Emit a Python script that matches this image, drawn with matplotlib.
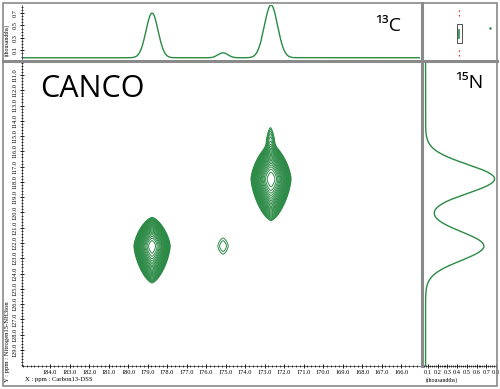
import numpy as np
import matplotlib
matplotlib.use("Agg")
import matplotlib.pyplot as plt
from matplotlib.lines import Line2D
from matplotlib.patches import Rectangle
from matplotlib.ticker import MultipleLocator, FixedLocator

# ---------------- data ----------------
# 2D cross peaks: carbon ppm, nitrogen ppm, amplitude, widths (x, y-up, y-down)
peak_c = [178.77, 172.67, 175.13, 172.70]
peak_n = [122.2, 117.8, 122.2, 115.2]
peak_amp = [1.0, 1.0, 0.0265, 0.035]
peak_wx = [0.47, 0.52, 0.50, 0.23]
peak_wy_up = [0.95, 1.15, 1.00, 1.00]
peak_wy_dn = [1.22, 1.38, 1.00, 1.00]

# 1D 13C projection (thousandths)
c13_pos = [178.77, 175.13, 172.67]
c13_height = [0.72, 0.08, 0.85]
c13_width = [0.31, 0.25, 0.34]
c13_base = -0.02

# 1D 15N projection (thousandths)
n15_pos = [117.8, 122.2]
n15_height = [0.71, 0.60]
n15_width = [0.95, 0.95]
n15_base = 0.075

x_ticks = [184.0, 183.0, 182.0, 181.0, 180.0, 179.0, 178.0, 177.0, 176.0,
           175.0, 174.0, 173.0, 172.0, 171.0, 170.0, 169.0, 168.0, 167.0, 166.0]
y_ticks = [111.0, 112.0, 113.0, 114.0, 115.0, 116.0, 117.0, 118.0, 119.0, 120.0,
           121.0, 122.0, 123.0, 124.0, 125.0, 126.0, 127.0, 128.0, 129.0]
top_ticks = [0.1, 0.3, 0.5, 0.7]
right_ticks = [0.1, 0.2, 0.3, 0.4, 0.5, 0.6, 0.7, 0.8]

GREEN = "#2b8a45"
GRAY = "#8a8a8a"
W, H = 500, 389
TICKFONT = dict(family="Liberation Serif", size=4.6)

fig = plt.figure(figsize=(W / 100, H / 100), dpi=100)


def rect(x0, y0, x1, y1):
    return [x0 / W, 1 - y1 / H, (x1 - x0) / W, (y1 - y0) / H]


main = fig.add_axes(rect(22, 62, 420, 366))
top = fig.add_axes(rect(22, 5, 420, 59), sharex=main)
right = fig.add_axes(rect(424, 62, 497, 366), sharey=main)
corner = fig.add_axes(rect(424, 5, 497, 58))

# ---------------- 2D contour ----------------
xg = np.linspace(165.0, 185.5, 800)
yg = np.linspace(110.0, 130.1, 800)
X, Y = np.meshgrid(xg, yg)
Z = np.zeros_like(X)
p = 1.5
for c, n, a, wx, wu, wd in zip(peak_c, peak_n, peak_amp, peak_wx, peak_wy_up, peak_wy_dn):
    dx = np.abs(X - c) / wx
    wy = np.where(Y < n, wu, wd)
    dy = np.abs(Y - n) / wy
    r = (dx ** p + dy ** p) ** (1.0 / p)
    Z += a * np.exp(-r ** 2)

levels = 0.02 * 1.17 ** np.arange(0, 25)
main.contour(X, Y, Z, levels=levels, colors=GREEN, linewidths=0.7)
main.set_xlim(185.44, 165.03)
main.set_ylim(130.05, 110.15)

main.xaxis.set_major_locator(FixedLocator(x_ticks))
main.yaxis.set_major_locator(FixedLocator(y_ticks))
main.xaxis.set_minor_locator(MultipleLocator(0.2))
main.yaxis.set_minor_locator(MultipleLocator(0.2))
main.set_xticklabels([f"{v:.1f}" for v in x_ticks], **TICKFONT)
main.set_yticklabels([f"{v:.1f}" for v in y_ticks], rotation=90, va="center", **TICKFONT)
main.tick_params(which="major", direction="inout", length=3, width=0.6, pad=1.5)
main.tick_params(which="minor", direction="inout", length=1.6, width=0.5)
for s in ["top", "right"]:
    main.spines[s].set_visible(False)
for s in ["left", "bottom"]:
    main.spines[s].set_linewidth(0.4)

main.text(0.045, 0.91, "CANCO", transform=main.transAxes, fontsize=22,
          family="Open Sans", ha="left", va="center")

# ---------------- top 13C trace ----------------
xs = np.linspace(165.0, 185.5, 1500)
c13 = np.full_like(xs, c13_base)
for pos, h, w in zip(c13_pos, c13_height, c13_width):
    c13 += h * np.exp(-0.5 * ((xs - pos) / w) ** 2)
top.plot(xs, c13, color=GREEN, lw=1.0)
top.set_ylim(-0.04, 0.83)
top.yaxis.set_major_locator(FixedLocator(top_ticks))
top.yaxis.set_minor_locator(MultipleLocator(0.05))
top.set_yticklabels([f"{v:.1f}" for v in top_ticks], rotation=90, va="center", **TICKFONT)
top.tick_params(axis="x", which="both", bottom=False, labelbottom=False)
top.tick_params(axis="y", which="major", direction="inout", length=3, width=0.6, pad=1.5)
top.tick_params(axis="y", which="minor", direction="inout", length=1.6, width=0.5)
for s in ["top", "right", "bottom"]:
    top.spines[s].set_visible(False)
top.spines["left"].set_linewidth(0.4)
top.text(0.92, 0.62, "\u00b9\u00b3C", transform=top.transAxes, fontsize=14,
         family="Open Sans", ha="center", va="center")

# ---------------- right 15N trace ----------------
ys = np.linspace(110.0, 130.1, 1500)
n15 = np.full_like(ys, n15_base)
for pos, h, w in zip(n15_pos, n15_height, n15_width):
    n15 += h * np.exp(-0.5 * ((ys - pos) / w) ** 2)
right.plot(n15, ys, color=GREEN, lw=1.0)
right.set_xlim(0.0588, 0.810)
right.xaxis.set_major_locator(FixedLocator(right_ticks))
right.xaxis.set_minor_locator(MultipleLocator(0.02))
right.set_xticklabels([f"{v:.1f}" for v in right_ticks], **TICKFONT)
right.tick_params(axis="y", which="both", left=False, labelleft=False)
right.tick_params(axis="x", which="major", direction="inout", length=3, width=0.6, pad=1.5)
right.tick_params(axis="x", which="minor", direction="inout", length=1.6, width=0.5)
for s in ["top", "right", "left"]:
    right.spines[s].set_visible(False)
right.spines["bottom"].set_linewidth(0.4)
right.text(0.62, 0.93, "\u00b9\u2075N", transform=right.transAxes, fontsize=14,
           family="Open Sans", ha="center", va="center")

# ---------------- corner thumbnail ----------------
corner.set_xlim(0, 1)
corner.set_ylim(0, 1)
corner.axis("off")
corner.add_patch(Rectangle((0.45, 0.28), 0.07, 0.36, fill=False, lw=0.6, ec="#333333"))
corner.plot([0.485, 0.485], [0.38, 0.52], color=GREEN, lw=1.2)
corner.plot([0.485, 0.485], [0.80, 0.95], color="#d03020", lw=0.9, ls=(0, (1.2, 2.5)))
corner.plot([0.485, 0.485], [0.03, 0.18], color="#d03020", lw=0.9, ls=(0, (1.2, 2.5)))
corner.plot([0.91], [0.56], ls="none", marker="o", ms=0.8, color=GREEN)

# ---------------- labels ----------------
fig.text(8 / W, 1 - 382 / H, "Y : ppm : Nitrogen15-NH3ion", rotation=90,
         ha="center", va="bottom", family="Liberation Serif", size=4.8)
fig.text(25 / W, 1 - 380 / H, "X : ppm : Carbon13-DSS", ha="left", va="center",
         family="Liberation Serif", size=4.8)
fig.text(426 / W, 1 - 380 / H, "(thousandths)", ha="left", va="center",
         family="Liberation Serif", size=4.2)
fig.text(7 / W, 1 - 40 / H, "(thousandths)", rotation=90, ha="center", va="center",
         family="Liberation Serif", size=4.2)

# ---------------- frame and separators ----------------
fig.add_artist(Rectangle((3 / W, 1 - 386 / H), 494 / W, 383 / H,
                         transform=fig.transFigure, fill=False, ec=GRAY, lw=1.2))
fig.add_artist(Line2D([3 / W, 497 / W], [1 - 60.5 / H] * 2, transform=fig.transFigure,
                      color=GRAY, lw=2.2))
fig.add_artist(Line2D([422 / W] * 2, [1 - 3 / H, 1 - 366 / H], transform=fig.transFigure,
                      color=GRAY, lw=2.2))

fig.savefig("out.png", dpi=100)
